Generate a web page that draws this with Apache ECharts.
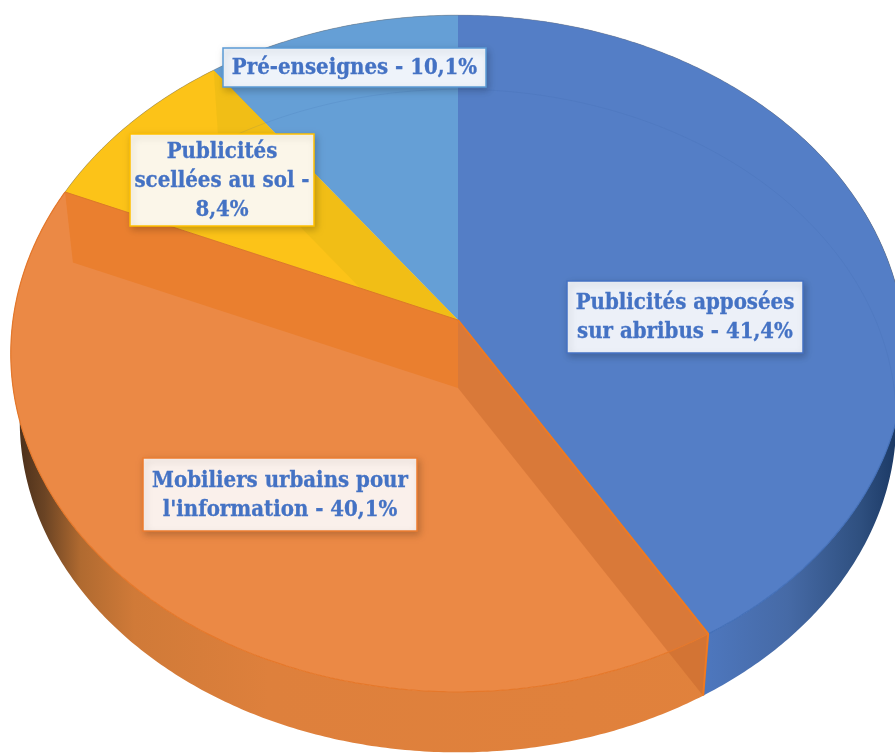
<!DOCTYPE html>
<html>
<head>
<meta charset="utf-8">
<style>
html, body { margin: 0; padding: 0; background: #fff; }
#main { width: 895px; height: 753px; }
</style>
<script src="https://cdn.jsdelivr.net/npm/echarts@6/dist/echarts.min.js"></script>
</head>
<body>
<div id="main"></div>
<script>
// chart data, clockwise from the top
var categories = ['Publicités apposées\nsur abribus', "Mobiliers urbains pour\nl'information", 'Publicités\nscellées au sol', 'Pré-enseignes'];
var values = [41.4, 40.1, 8.4, 10.1];
var separators = [' - ', ' - ', ' -\n', ' - '];

// slice colours
var topColors = ['#547ec6', '#eb8945', '#fcc318', '#659fd6'];
var labelFill = ['#ecf0f8', '#faf0eb', '#fbf6e9', '#eef3fa'];
var labelBorder = ['#4472c4', '#ed7d31', '#ffc000', '#5b9bd5'];

// label boxes: x, y, width, height
var labelBoxes = [[567, 281, 236, 72], [143, 458, 274, 73], [130, 134, 184, 92], [223, 48, 263, 39]];

// perspective disc, top face apex and the drop to the bottom face
var apexX = 458, apexY = 320, radX = 445, radY = 335, persp = 0.099;
var depth = 68, bottomScale = 0.98;

var total = values.reduce(function(a, b) { return a + b; }, 0);

function project(angle, isBottom) {
    var u = Math.sin(angle), v = -Math.cos(angle);
    var d = 1 - persp * v;
    var s = isBottom ? bottomScale : 1;
    return [apexX + s * radX * u / d, apexY + (isBottom ? depth : 0) + s * radY * v / d];
}

function arc(a0, a1, isBottom) {
    var pts = [];
    var n = Math.max(2, Math.ceil(Math.abs(a1 - a0) / 0.01));
    for (var i = 0; i <= n; i++) {
        pts.push(project(a0 + (a1 - a0) * i / n, isBottom));
    }
    return pts;
}

function sideGradient(stops) {
    return { type: 'linear', x: 0, y: 0, x2: 895, y2: 0, global: true, colorStops: stops };
}

var sideFills = [
    sideGradient([{ offset: 0.78, color: '#4e78c0' }, { offset: 0.88, color: '#466aa6' }, { offset: 0.96, color: '#2f5080' }, { offset: 1, color: '#1c3a66' }]),
    sideGradient([{ offset: 0.02, color: '#4a2f1a' }, { offset: 0.05, color: '#6b4424' }, { offset: 0.09, color: '#b06a30' }, { offset: 0.15, color: '#d07a38' }, { offset: 0.3, color: '#de803c' }, { offset: 1, color: '#e2823c' }]),
    '#e8b010',
    '#5a94cc'
];

function line(points, color, width, z2) {
    return {
        type: 'polyline', z2: z2, silent: true,
        shape: { points: points },
        style: { stroke: color, lineWidth: width, fill: null }
    };
}

function poly(points, fill, z2) {
    return {
        type: 'polygon', z2: z2, silent: true,
        shape: { points: points },
        style: { fill: fill }
    };
}

function renderSlice(params, api) {
    var i = params.dataIndex;
    var before = 0;
    for (var j = 0; j < i; j++) before += values[j];
    var a0 = before / total * Math.PI * 2;
    var a1 = (before + api.value(0)) / total * Math.PI * 2;

    var apexTop = [apexX, apexY];
    var apexBottom = [apexX, apexY + depth];
    var topArc = arc(a0, a1, false);
    var bottomArc = arc(a0, a1, true);
    var kids = [];

    // outer wall, the top faces hide whatever is not on the front
    kids.push(poly(topArc.concat(bottomArc.slice().reverse()), sideFills[i], 1));
    // top face
    kids.push(poly([apexTop].concat(topArc), topColors[i], 2 + i));
    // back rim of the bottom face seen through the top
    if (i === 0 || i === 3) {
        kids.push(line(arc(a0, i === 0 ? 1.75 : a1, true), 'rgba(50,90,160,0.12)', 1, 8));
    }
    // cut walls seen through the top
    if (i === 1) {
        kids.push(poly([apexTop, project(a1, false), project(a1, true), apexBottom], '#ea7f2f', 7));
        kids.push(poly([apexTop, project(a0, false), project(a0, true), apexBottom], 'rgba(190,95,40,0.38)', 7));
        kids.push(line([apexTop, project(a0, false), project(a0, true)], '#f07a20', 2, 9));
        kids.push(line([apexTop, project(a1, false)], '#dc7a28', 1, 9));
    }
    if (i === 2) {
        kids.push(poly([apexTop, project(a1, false), project(a1, true), apexBottom], '#f1be16', 6));
    }
    // rim of the top face: coloured on the front, thin grey on the back
    if (i === 0) {
        kids.push(line(arc(1.75, a1, false), '#4470b8', 1.2, 8));
        kids.push(line(arc(a0, 1.75, false), 'rgba(110,110,110,0.35)', 1, 8));
    } else if (i === 1) {
        kids.push(line(topArc, '#e5782b', 1.2, 8));
    } else {
        kids.push(line(topArc, 'rgba(110,110,110,0.45)', 1, 8));
    }

    // label
    var box = labelBoxes[i];
    kids.push({
        type: 'rect', z2: 20, silent: true,
        shape: { x: box[0], y: box[1], width: box[2], height: box[3] },
        style: {
            fill: labelFill[i], stroke: labelBorder[i], lineWidth: 1.5,
            shadowBlur: 7, shadowOffsetX: 2, shadowOffsetY: 3, shadowColor: 'rgba(0,0,0,0.2)'
        }
    });
    kids.push({
        type: 'text', z2: 21, silent: true,
        style: {
            x: box[0] + box[2] / 2,
            y: box[1] + box[3] / 2 + 1,
            text: categories[i] + separators[i] + String(api.value(0)).replace('.', ',') + '%',
            font: 'bold 22px "DejaVu Serif Condensed", "DejaVu Serif", serif',
            lineHeight: 29,
            align: 'center',
            verticalAlign: 'middle',
            fill: '#4472c4',
            stroke: '#4472c4',
            lineWidth: 0.3
        }
    });
    return { type: 'group', children: kids };
}

var myChart = echarts.init(document.getElementById('main'), null, { renderer: 'canvas' });

var option = {
    animation: false,
    backgroundColor: '#ffffff',
    series: [{
        type: 'custom',
        coordinateSystem: 'none',
        renderItem: renderSlice,
        data: values.map(function(v, i) {
            return { name: categories[i], value: [v] };
        })
    }]
};
myChart.setOption(option);
</script>
</body>
</html>
